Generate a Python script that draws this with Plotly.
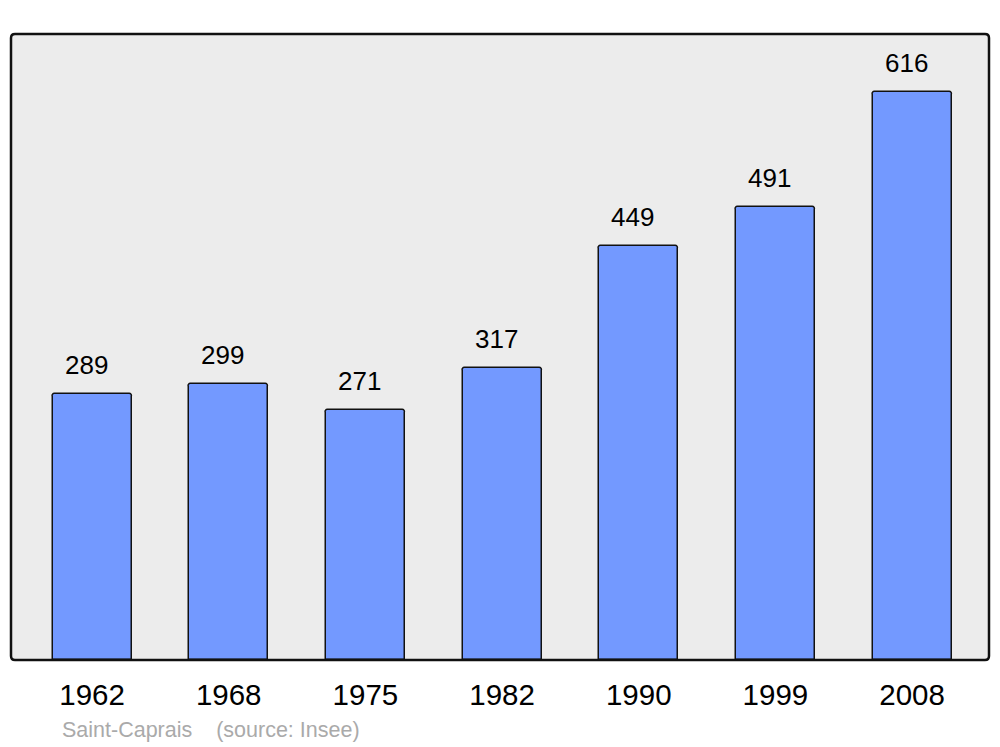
import plotly.graph_objects as go

years = ["1962", "1968", "1975", "1982", "1990", "1999", "2008"]
population = [289, 299, 271, 317, 449, 491, 616]
source_text = "Saint-Caprais    (source: Insee)"

FONT = "Liberation Sans, Arial, sans-serif"
xs = list(range(len(years)))

PW, PH = 978, 626  # plot area size in px

fig = go.Figure()
fig.add_trace(go.Bar(
    x=xs, y=population, width=0.578,
    marker=dict(color="#7399FF", line=dict(color="#111111", width=1.5), cornerradius=3),
    hoverinfo="skip",
))

for x, v in zip(xs, population):
    fig.add_annotation(x=x, y=v, text=str(v), showarrow=False, yanchor="bottom",
                       yshift=12, xshift=-6, font=dict(family=FONT, size=26, color="#000000"))

fig.add_annotation(xref="paper", yref="paper", x=(60 - 11) / PW, y=-(730 - 660) / PH,
                   xanchor="left", yanchor="middle", text=source_text, showarrow=False,
                   font=dict(family=FONT, size=21.5, color="#AAAAAA"))

rx, ry = 4 / PW, 4 / PH
frame = (f"M {rx},0 L {1-rx},0 Q 1,0 1,{ry} L 1,{1-ry} Q 1,1 {1-rx},1 "
         f"L {rx},1 Q 0,1 0,{1-ry} L 0,{ry} Q 0,0 {rx},0 Z")
fig.add_shape(type="path", xref="paper", yref="paper", path=frame,
              line=dict(color="#111111", width=2.5), layer="above")

fig.update_layout(
    width=984, height=739,
    margin=dict(l=3, r=3, t=26, b=87),
    paper_bgcolor="#FFFFFF", plot_bgcolor="#ECECEC",
    showlegend=False,
    xaxis=dict(range=[-0.593, 6.563], tickmode="array", tickvals=xs, ticktext=years,
               showgrid=False, zeroline=False, ticks="", ticklen=0,
               ticklabelstandoff=14,
               tickfont=dict(family=FONT, size=29.5, color="#000000")),
    yaxis=dict(range=[0, 679], showgrid=False, zeroline=False, showticklabels=False, ticks=""),
    bargap=0,
)

fig.write_html("out.html")
